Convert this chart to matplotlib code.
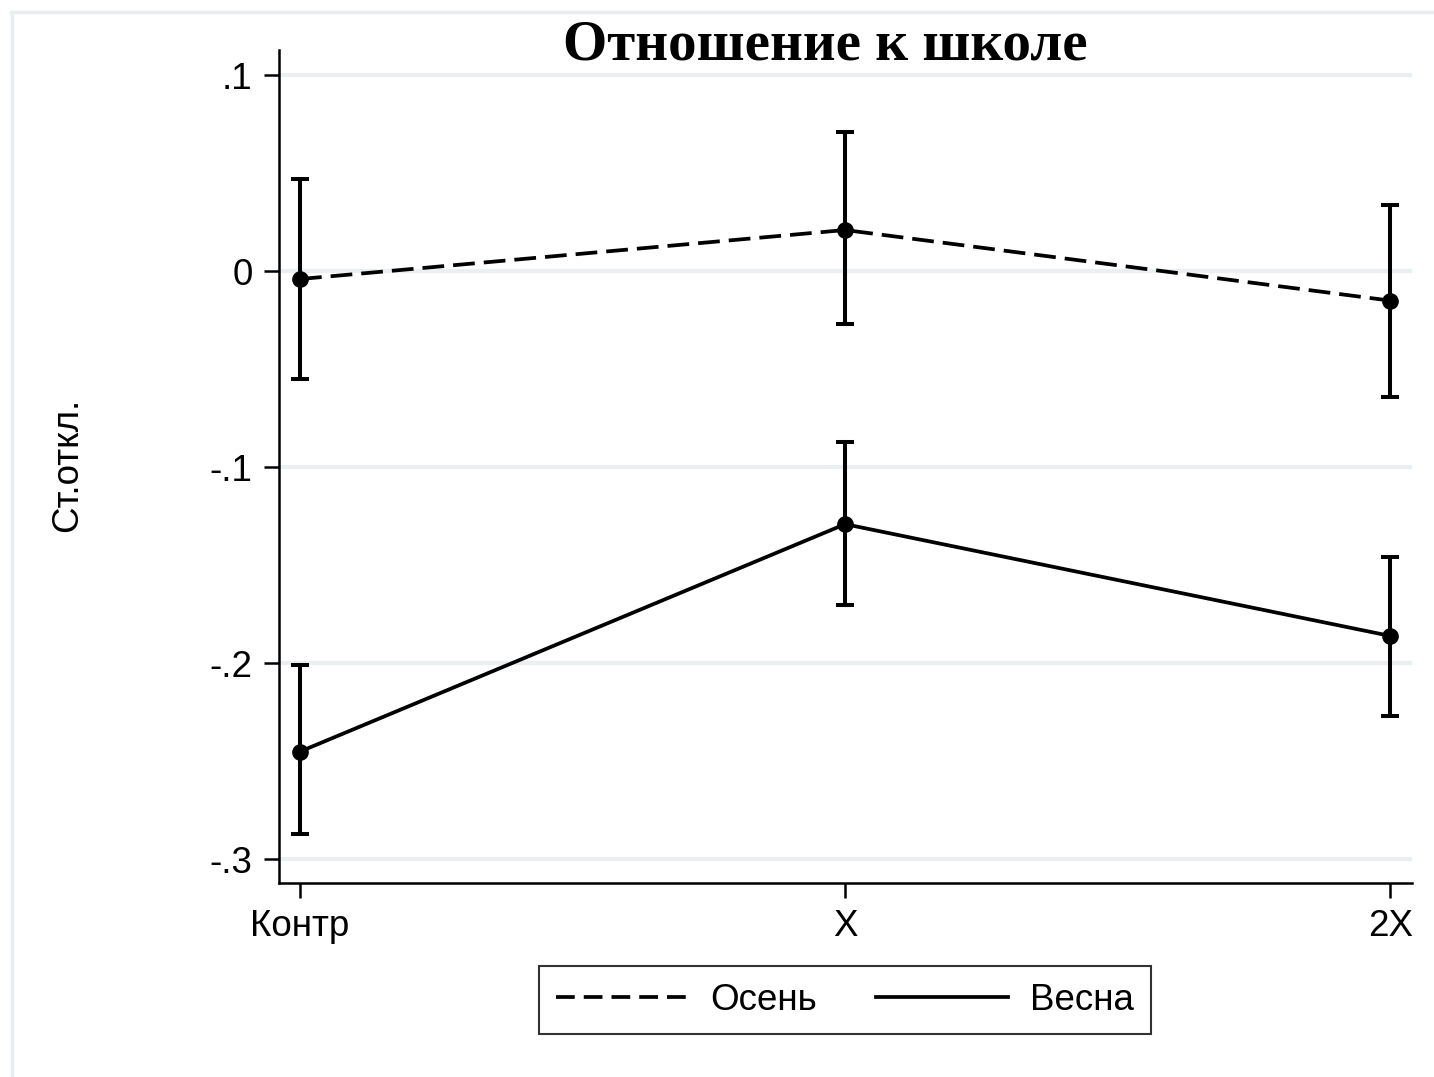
import matplotlib
matplotlib.use("Agg")
import matplotlib.pyplot as plt
from matplotlib.lines import Line2D
import numpy as np

# Groups and series values (standardized scores)
groups = ["Контр", "X", "2X"]
autumn_mean = [-0.004, 0.021, -0.015]
autumn_low = [-0.055, -0.027, -0.064]
autumn_high = [0.047, 0.071, 0.034]
spring_mean = [-0.245, -0.129, -0.186]
spring_low = [-0.287, -0.170, -0.227]
spring_high = [-0.201, -0.087, -0.146]
ytick_vals = [-0.3, -0.2, -0.1, 0.0, 0.1]
ytick_labels = ["-.3", "-.2", "-.1", "0", ".1"]

W, H = 1434, 1077
fig = plt.figure(figsize=(W / 100, H / 100), dpi=100)
fig.patch.set_facecolor("white")

# light outer frame
frame_col = "#e8eef0"
fig.add_artist(Line2D([11 / W, 1], [1 - 12 / H, 1 - 12 / H], color=frame_col, lw=2.5, transform=fig.transFigure))
fig.add_artist(Line2D([12 / W, 12 / W], [0, 1 - 12 / H], color=frame_col, lw=2.5, transform=fig.transFigure))

ax = fig.add_axes([279 / W, 1 - 883 / H, (1412 - 279) / W, (883 - 50) / H])
x = np.arange(len(groups))

for y in ytick_vals:
    ax.axhline(y, color="#eaf0f2", lw=3, zorder=0)

dash_style = (0, (5.8, 2.4))


def draw_series(mean, low, high, ls):
    mean = np.array(mean)
    yerr = [mean - np.array(low), np.array(high) - mean]
    ax.plot(x, mean, color="black", lw=2.7, linestyle=ls, zorder=3)
    ax.errorbar(x, mean, yerr=yerr, fmt="o", color="black", ms=11,
                elinewidth=2.9, capsize=6.5, capthick=2.9, zorder=4)


draw_series(autumn_mean, autumn_low, autumn_high, dash_style)
draw_series(spring_mean, spring_low, spring_high, "-")

ax.set_xlim(-0.0385, 2.04)
ax.set_ylim(-0.312, 0.1128)
ax.set_xticks(x)
ax.set_xticklabels(groups)
ax.set_yticks(ytick_vals)
ax.set_yticklabels(ytick_labels)

for s in ["top", "right"]:
    ax.spines[s].set_visible(False)
for s in ["left", "bottom"]:
    ax.spines[s].set_linewidth(1.8)
ax.tick_params(axis="both", length=11, width=1.8, labelsize=26.5, pad=8,
               labelfontfamily="Liberation Sans")
ax.tick_params(axis="x", pad=8)

fig.text(68 / W, 1 - 465 / H, "Ст.откл.", rotation=90, ha="center", va="center",
         fontsize=26.5, family="Liberation Sans")
fig.text(825 / W, 1 - 60 / H, "Отношение к школе", ha="center", va="baseline",
         fontsize=41, fontweight="bold", family="Liberation Serif")

handles = [Line2D([], [], color="black", lw=2.7, linestyle=(0, (5.0, 2.4))),
           Line2D([], [], color="black", lw=2.7)]
leg = fig.legend(handles, ["Осень", "Весна"], ncol=2, loc="center",
                 bbox_to_anchor=(845 / W, 1 - 1000 / H), frameon=True, fancybox=False,
                 handlelength=3.6, handletextpad=0.6, columnspacing=1.6,
                 prop={"family": "Liberation Sans", "size": 26.5}, borderpad=0.45)
leg.get_frame().set_edgecolor("black")
leg.get_frame().set_linewidth(1.5)

fig.savefig("out.png", dpi=100)
